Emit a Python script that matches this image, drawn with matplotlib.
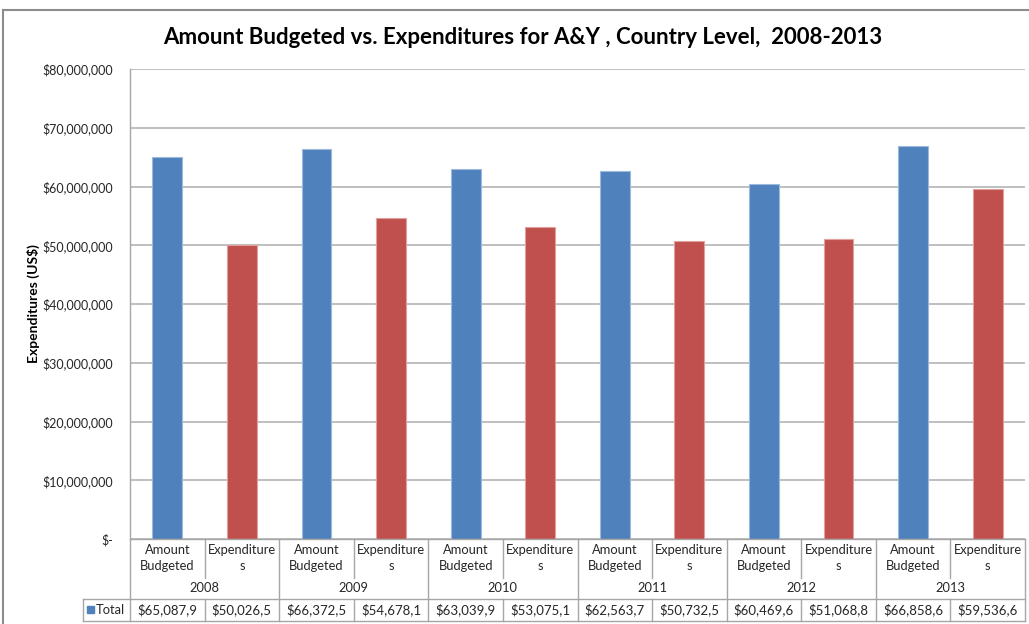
import numpy as np
import matplotlib
matplotlib.use("Agg")
import matplotlib.pyplot as plt
from matplotlib.lines import Line2D
from matplotlib.patches import Rectangle
from matplotlib.transforms import blended_transform_factory

plt.rcParams["font.family"] = ["Lato", "DejaVu Sans"]

years = ["2008", "2009", "2010", "2011", "2012", "2013"]
measures = ["Amount\nBudgeted", "Expenditure\ns"]
budgeted = [65087900, 66372500, 63039900, 62563700, 60469600, 66858600]
expenditures = [50026500, 54678100, 53075100, 50732500, 51068800, 59536600]
yticks = [0, 10e6, 20e6, 30e6, 40e6, 50e6, 60e6, 70e6, 80e6]
ytick_labels = ["$-", "$10,000,000", "$20,000,000", "$30,000,000", "$40,000,000",
                "$50,000,000", "$60,000,000", "$70,000,000", "$80,000,000"]

W, H = 1029, 624
BLUE, RED = "#4F81BD", "#C0504D"
LINE = "#A6A6A6"
TXT = "#262626"

fig = plt.figure(figsize=(W / 100, H / 100), dpi=100)
ax = fig.add_axes([130 / W, 1 - 539 / H, (1025 - 130) / W, (539 - 69) / H])

# interleave: AB, Exp per year
values = []
colors = []
for b, e in zip(budgeted, expenditures):
    values += [b, e]
    colors += [BLUE, RED]
x = np.arange(len(values))
ax.bar(x, values, width=0.40, color=colors, edgecolor=["#9DB9DD" if c == BLUE else "#E0A09E" for c in colors],
       linewidth=0.8, zorder=3)

ax.set_xlim(-0.5, len(values) - 0.5)
ax.set_ylim(0, 80e6)
ax.set_yticks(yticks)
ax.set_yticklabels(ytick_labels, fontsize=9, color=TXT)
ax.tick_params(axis="y", length=0, pad=12)
ax.set_xticks([])
ax.grid(axis="y", color="#B4B4B4", linewidth=1.2, zorder=0)
for s in ["top", "right", "bottom"]:
    ax.spines[s].set_visible(False)
ax.spines["left"].set_color(LINE)
ax.spines["left"].set_linewidth(1.0)
ax.set_ylabel("Expenditures (US$)", fontsize=10, fontweight="bold", color="black")
ax.yaxis.set_label_coords(-90 / (1025 - 130), 0.5)

fig.text(523 / W, 1 - 37 / H, "Amount Budgeted vs. Expenditures for A&Y , Country Level,  2008-2013",
         ha="center", va="center", fontsize=16, fontweight="bold")

# data table below the axes
tr = blended_transform_factory(ax.transData, fig.transFigure)
ftr = fig.transFigure


def py(p):
    return 1 - p / H


def vline(xd, y0, y1):
    fig.add_artist(Line2D([xd, xd], [py(y0), py(y1)], transform=tr, color=LINE, lw=1.0, clip_on=False))


def hline(x0, x1, yp):
    fig.add_artist(Line2D([x0, x1], [py(yp), py(yp)], transform=tr, color=LINE, lw=1.0, clip_on=False))


n = len(values)
hline(-0.5, n - 0.5, 539)
for k in range(n + 1):
    xb = k - 0.5
    if k % 2 == 0:
        vline(xb, 539, 621)
    else:
        vline(xb, 539, 578)
        vline(xb, 599, 621)

left_x = ax.transData.inverted().transform((83, 0))[0]
hline(left_x, n - 0.5, 599)
hline(left_x, n - 0.5, 621)
vline(left_x, 599, 621)

for i in range(n):
    fig.text(x[i], py(558), measures[i % 2], transform=tr, fontsize=9.3, ha="center", va="center",
             color=TXT, linespacing=1.3)
for j, yr in enumerate(years):
    fig.text(2 * j + 0.5, py(588), yr, transform=tr, fontsize=9.3, ha="center", va="center", color=TXT)
for i, v in enumerate(values):
    fig.text(x[i], py(610), f"${v:,.0f}"[:9], transform=tr, fontsize=9.5, ha="center", va="center",
             color=TXT)

fig.add_artist(Rectangle((87 / W, py(613)), 7 / W, 7 / H, transform=ftr, color=BLUE))
fig.text(96 / W, py(610), "Total", fontsize=9.3, ha="left", va="center", color=TXT)

# chart area border
fig.add_artist(Line2D([3 / W, 3 / W], [py(10), 0], transform=ftr, color="#8C8C8C", lw=1.5))
fig.add_artist(Line2D([3 / W, 1], [py(10), py(10)], transform=ftr, color="#8C8C8C", lw=1.5))

fig.savefig("out.png", dpi=100)
